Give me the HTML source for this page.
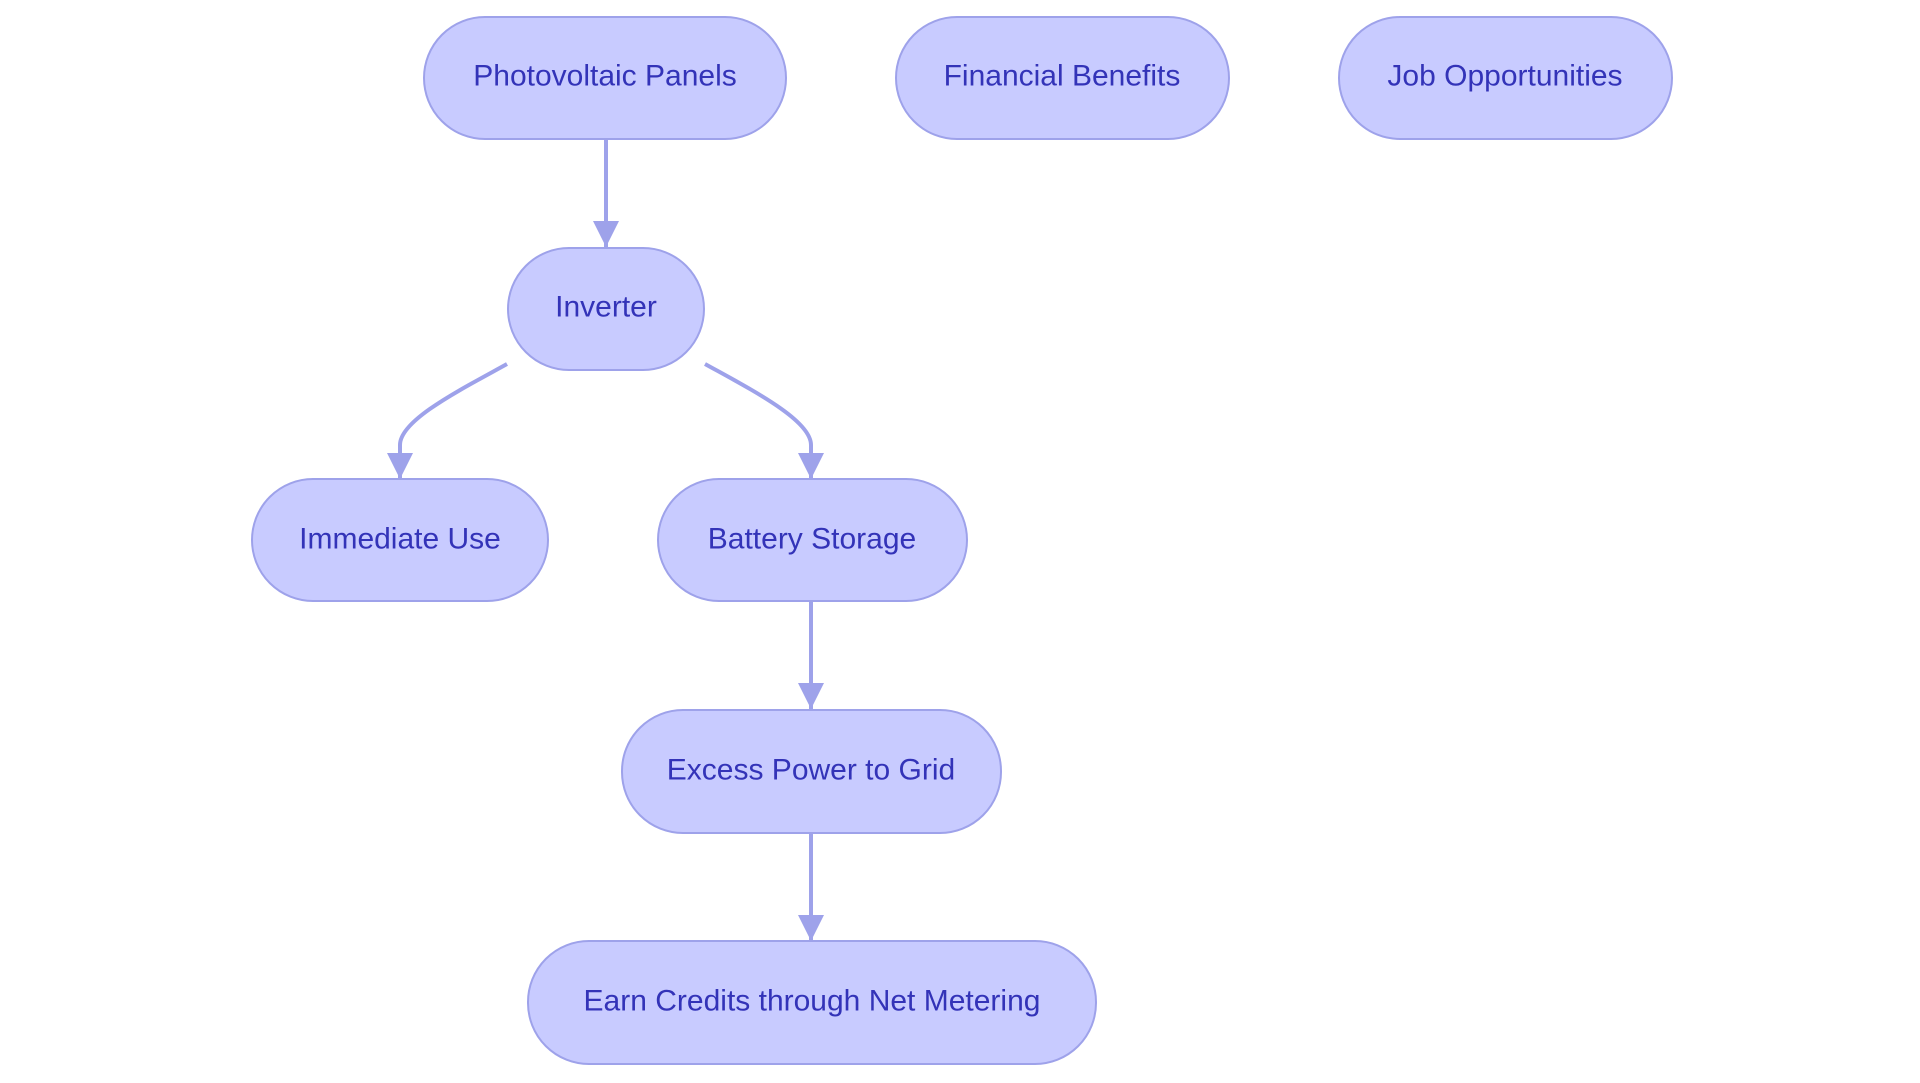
<!DOCTYPE html>
<html><head><style>body{margin:0;background:#fff}svg{display:block}</style></head><body>
<svg width="1920" height="1083" viewBox="0 0 1920 1083" xmlns="http://www.w3.org/2000/svg">
<defs>
<marker id="m" viewBox="0 0 10 10" refX="10" refY="5" markerWidth="26" markerHeight="26" orient="auto" markerUnits="userSpaceOnUse"><path d="M0,0L10,5L0,10z" fill="#9ea2ea"/></marker></defs>
<g fill="none" stroke="#9ea2ea" stroke-width="4">
<path d="M606 139V247" marker-end="url(#m)"/>
<path d="M507 364C460 390 400 420 400 445V479" marker-end="url(#m)"/>
<path d="M705 364C752 390 811 420 811 445V479" marker-end="url(#m)"/>
<path d="M811 601V709" marker-end="url(#m)"/>
<path d="M811 833V941" marker-end="url(#m)"/>
</g>
<g fill="#c8cbff" stroke="#9ea2ea" stroke-width="2">
<rect x="424" y="17" width="362" height="122" rx="61"/>
<rect x="896" y="17" width="333" height="122" rx="61"/>
<rect x="1339" y="17" width="333" height="122" rx="61"/>
<rect x="508" y="248" width="196" height="122" rx="61"/>
<rect x="252" y="479" width="296" height="122" rx="61"/>
<rect x="658" y="479" width="309" height="122" rx="61"/>
<rect x="622" y="710" width="379" height="123" rx="61"/>
<rect x="528" y="941" width="568" height="123" rx="61"/>
</g>
<g font-family="Liberation Sans, sans-serif" font-size="30" fill="#3333b8" text-anchor="middle" dominant-baseline="central">
<text x="605" y="76">Photovoltaic Panels</text>
<text x="1062" y="76">Financial Benefits</text>
<text x="1505" y="76">Job Opportunities</text>
<text x="606" y="307">Inverter</text>
<text x="400" y="539">Immediate Use</text>
<text x="812" y="539">Battery Storage</text>
<text x="811" y="770">Excess Power to Grid</text>
<text x="812" y="1001">Earn Credits through Net Metering</text>
</g>
</svg>
</body></html>
